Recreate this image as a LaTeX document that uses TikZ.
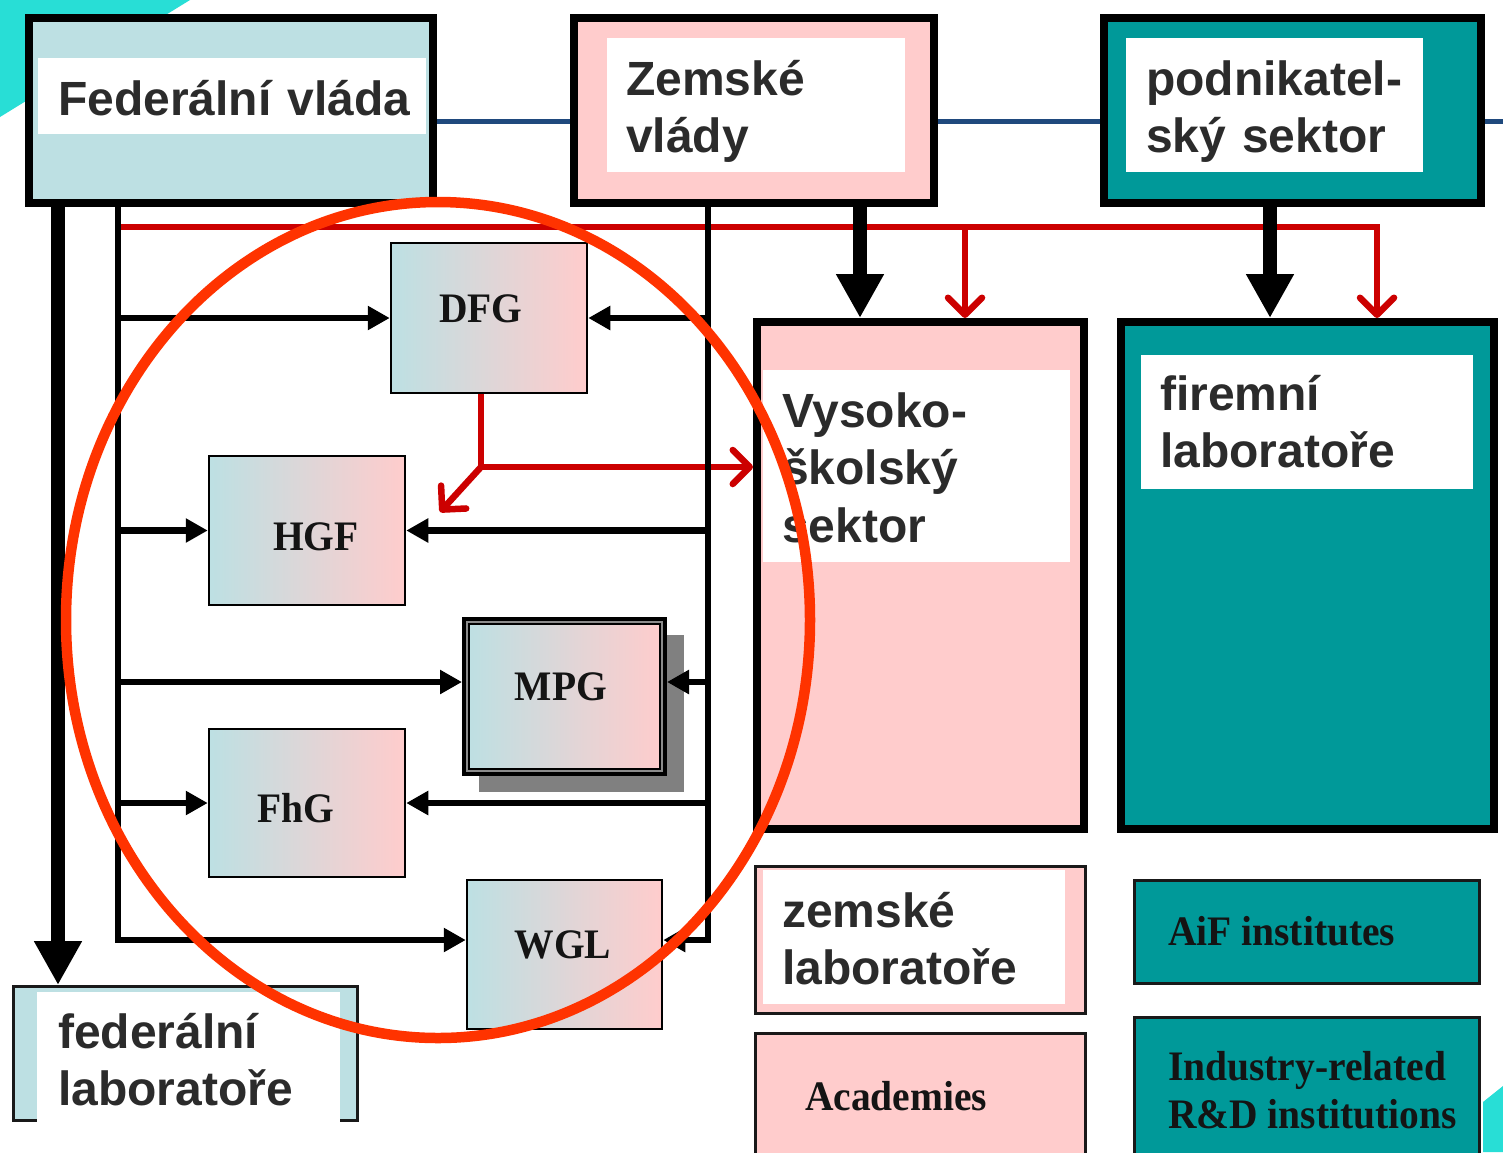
\documentclass[tikz,border=0pt]{standalone}
\usepackage{fontspec}
\setmainfont{Liberation Sans}
\newfontfamily\serifbf{Liberation Serif}[FakeStretch=0.94]
\usetikzlibrary{arrows.meta,shadows}

\definecolor{boxblue}{RGB}{189,224,227}
\definecolor{boxpink}{RGB}{255,204,204}
\definecolor{boxteal}{RGB}{0,153,153}
\definecolor{linkblue}{RGB}{31,73,125}
\definecolor{flowred}{RGB}{204,0,0}
\definecolor{ringred}{RGB}{255,51,0}
\definecolor{cornercyan}{RGB}{40,222,214}
\definecolor{labelgray}{RGB}{43,43,43}

\tikzset{
  frame/.style={draw=black, line width=8pt, inner sep=0pt},
  thinframe/.style={draw=black!90, line width=3pt, inner sep=0pt},
  gradbox/.style={draw=black, line width=2.5pt, left color=boxblue, right color=boxpink, inner sep=0pt},
  whitepad/.style={fill=white, inner sep=0pt},
  sanslabel/.style={font={\fontsize{48}{57.5}\selectfont\bfseries}, text=labelgray,
    inner sep=0pt, anchor=base west, align=left},
  seriflabel/.style={font={\serifbf\bfseries\fontsize{42}{48}\selectfont}, text=black!92,
    inner sep=0pt, anchor=base},
  feed/.style={line width=6.5pt, -{Triangle[length=22pt,width=23pt]}},
  bigfeed/.style={line width=14pt, -{Triangle[length=44pt,width=45pt]}},
  flow/.style={draw=flowred, line width=6.5pt},
  flowarr/.style={flow, -{Straight Barb[round,length=17pt,width=34pt]}},
  link/.style={draw=linkblue, line width=5pt}
}

\begin{document}
\begin{tikzpicture}[x=1pt,y=-1pt]
    % Page and corner decoration
    \useasboundingbox (0,0) rectangle (1503,1152);
    \fill[white] (0,0) rectangle (1503,1152);
    \fill[cornercyan] (0,0) -- (190,0) -- (0,117) -- cycle;
    \fill[cornercyan] (1483,1102) -- (1503,1086) -- (1503,1152) -- (1483,1152) -- cycle;

    % Top row
    \node[frame, fill=boxblue, minimum width=404pt, minimum height=185pt] (fed) at (231,110.5) {};
    \node[frame, fill=boxpink, minimum width=360pt, minimum height=185pt] (zem) at (754,110.5) {};
    \node[frame, fill=boxteal, minimum width=377pt, minimum height=185pt] (pod) at (1292.5,110.5) {};

    % Links between the top boxes
    \coordinate (linkend) at (1503,121);
    \draw[link] ([yshift=-10.5pt]fed.east) -- ([yshift=-10.5pt]zem.west);
    \draw[link] ([yshift=-10.5pt]zem.east) -- ([yshift=-10.5pt]pod.west);
    \draw[link] ([yshift=-10.5pt]pod.east) -- (linkend);

    % Middle and bottom boxes
    \node[frame, fill=boxpink, minimum width=327pt, minimum height=507pt] (vys) at (920.5,575.5) {};
    \node[frame, fill=boxteal, minimum width=373pt, minimum height=507pt] (firm) at (1307.5,575.5) {};
    \node[thinframe, fill=boxpink, minimum width=330pt, minimum height=147pt] (zemlab) at (920.5,940) {};
    \node[thinframe, fill=boxpink, minimum width=330pt, minimum height=130pt] (acad) at (920.5,1098.5) {};
    \node[thinframe, fill=boxteal, minimum width=345pt, minimum height=103pt] (aif) at (1307,932) {};
    \node[thinframe, fill=boxteal, minimum width=345pt, minimum height=146pt] (ind) at (1307,1090.5) {};
    \node[thinframe, fill=boxblue, minimum width=344pt, minimum height=134pt] (fedlab) at (185.5,1053.5) {};

    % White label pads
    \node[whitepad, minimum width=388pt, minimum height=76pt] (fedpad) at (232,96) {};
    \node[whitepad, minimum width=298pt, minimum height=134pt] (zempad) at (756,105) {};
    \node[whitepad, minimum width=297pt, minimum height=134pt] (podpad) at (1274.5,105) {};
    \node[whitepad, minimum width=307pt, minimum height=192pt] (vyspad) at (916.5,466) {};
    \node[whitepad, minimum width=332pt, minimum height=134pt] (firmpad) at (1307,422) {};
    \node[whitepad, minimum width=302pt, minimum height=134pt] (zemlabpad) at (914,937) {};
    \node[whitepad, minimum width=303pt, minimum height=133pt] (fedlabpad) at (188.5,1058.5) {};

    % Czech labels
    \node[sanslabel, text width=370pt] (fedtext) at (58,115) {Federální vláda};
    \node[sanslabel, text width=270pt] (zemtext) at (626,95) {Zemské\\vlády};
    \node[sanslabel, text width=270pt] (podtext) at (1146,95) {podnikatel-\\ský sektor};
    \node[sanslabel, text width=280pt] (vystext) at (782,427) {Vysoko-\\školský\\sektor};
    \node[sanslabel, text width=300pt] (firmtext) at (1160,410) {firemní\\laboratoře};
    \node[sanslabel, text width=280pt] (zemlabtext) at (782,927) {zemské\\laboratoře};
    \node[sanslabel, text width=280pt] (fedlabtext) at (58,1048) {federální\\laboratoře};

    % English labels
    \node[seriflabel, anchor=base west] (acadtext) at (805,1110) {Academies};
    \node[seriflabel, anchor=base west] (aiftext) at (1168,945) {AiF institutes};
    \node[seriflabel, anchor=base west] (indtext) at (1168,1080) {Industry-related};
    \node[seriflabel, anchor=base west] (indtext2) at (1168,1128) {R\&D institutions};

    % Research organisations
    \node[gradbox, minimum width=196pt, minimum height=150pt] (dfg) at (489,318) {};
    \node[gradbox, minimum width=196pt, minimum height=149pt] (hgf) at (307,530.5) {};
    \node[gradbox, line width=8pt, minimum width=197pt, minimum height=151pt,
      drop shadow={shadow xshift=16pt, shadow yshift=-16pt, shadow scale=1.04, fill=black!50, opacity=1}]
      (mpg) at (564.5,696.5) {};
    \draw[black!45, line width=1.5pt] ([xshift=5.2pt,yshift=-5.2pt]mpg.north west) rectangle ([xshift=-5.2pt,yshift=5.2pt]mpg.south east);
    \draw[black, line width=1.8pt] ([xshift=7.5pt,yshift=-7.5pt]mpg.north west) rectangle ([xshift=-7.5pt,yshift=7.5pt]mpg.south east);
    \node[gradbox, minimum width=196pt, minimum height=148pt] (fhg) at (307,803) {};
    \node[gradbox, minimum width=195pt, minimum height=149pt] (wgl) at (564.5,954.5) {};

    \node[seriflabel] (dfgtext) at (481,322) {DFG};
    \node[seriflabel] (hgftext) at (316,550) {HGF};
    \node[seriflabel] (mpgtext) at (561,700) {MPG};
    \node[seriflabel] (fhgtext) at (296,822) {FhG};
    \node[seriflabel] (wgltext) at (563,958) {WGL};

    % Red funding lines
    \coordinate (redL) at (118,227);
    \coordinate (redvys) at (965,227);
    \coordinate (redfirm) at (1377,227);
    \draw[flowarr] (redL) -| (redfirm |- firm.north);
    \draw[flowarr] (redvys) -- (redvys |- vys.north);

    \coordinate (dfgout) at ([xshift=-8pt]dfg.south);
    \coordinate (redsplit) at (481,467);
    \coordinate (hgftip) at (440,512);
    \draw[flow] (dfgout) -- (redsplit);
    \draw[flowarr] (redsplit) -- (redsplit -| vys.west);
    \draw[flowarr] (redsplit) -- (hgftip);

    % Black buses and arrows
    \coordinate (busL) at (118,207);
    \coordinate (busR) at (708,207);
    \coordinate (mpgL) at ([yshift=14.5pt]mpg.west);
    \coordinate (mpgR) at ([yshift=14.5pt]mpg.east);
    \coordinate (wglL) at ([yshift=14.5pt]wgl.west);
    \coordinate (wglR) at ([yshift=14.5pt]wgl.east);
    \draw[feed] (busL) |- (wglL);
    \draw[feed] (busR) |- (wglR);
    \foreach \org in {dfg,hgf,fhg} {
      \draw[feed] (busL |- \org.west) -- (\org.west);
      \draw[feed] (busR |- \org.east) -- (\org.east);
    }
    \draw[feed] (busL |- mpgL) -- (mpgL);
    \draw[feed] (busR |- mpgR) -- (mpgR);

    \coordinate (fedarr) at (58,207);
    \coordinate (zemarr) at (860,207);
    \coordinate (podarr) at (1270,207);
    \draw[bigfeed] (fedarr) -- (fedarr |- fedlab.north);
    \draw[bigfeed] (zemarr) -- (zemarr |- vys.north);
    \draw[bigfeed] (podarr) -- (podarr |- firm.north);

    % Highlight ring
    \draw[ringred, line width=10.5pt] (438,620) ellipse [x radius=372pt, y radius=418pt];
\end{tikzpicture}
\end{document}
